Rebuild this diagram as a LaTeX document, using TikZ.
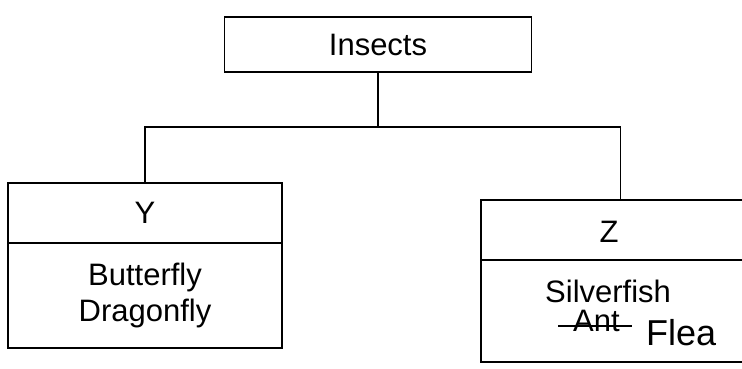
\documentclass[tikz,border=0pt]{standalone}
\usepackage{fontspec}
\setmainfont{Liberation Sans}
\usetikzlibrary{calc}
\begin{document}
\begin{tikzpicture}[x=1pt,y=-1pt,
  box/.style={draw=black,line width=1.8pt,inner sep=0pt,outer sep=0pt},
  lbl/.style={inner sep=0pt,font=\fontsize{31}{36}\selectfont},
  conn/.style={draw=black,line width=1.8pt}]
\useasboundingbox (0,0) rectangle (742,369);
\clip (0,0) rectangle (742,369);
% top box
\node[box,minimum width=307pt,minimum height=55pt,lbl] (ins) at (378,44.5) {Insects};
% Y box
\node[box,minimum width=274pt,minimum height=60pt,lbl] (yhead) at (145,213) {Y};
\node[box,minimum width=274pt,minimum height=105pt,anchor=north,lbl,align=center] (ybody) at (yhead.south) {Butterfly\\Dragonfly};
% Z box
\node[box,minimum width=279pt,minimum height=60pt] (zhead) at (620.5,230) {};
\node[lbl] (zlab) at (609,232) {Z};
\node[box,minimum width=279pt,minimum height=102pt,anchor=north] (zbody) at (zhead.south) {};
\node[lbl,anchor=base west] (silver) at (545,302) {Silverfish};
\node[lbl,anchor=base west] (ant) at (573,331) {Ant};
\node[inner sep=0pt,anchor=base west,font=\fontsize{36}{40}\selectfont] (flea) at (646,345) {Flea};
\coordinate (s1) at ($(ant.base west)+(-15,-5)$);
\coordinate (s2) at ($(ant.base east)+(12,-5)$);
\draw[line width=1.6pt] (s1) -- (s2);
% connectors
\coordinate (j) at (378,127);
\draw[conn] (ins.south) -- (j);
\draw[conn] (yhead.north) |- (j) -| (zhead.north);
\end{tikzpicture}
\end{document}
